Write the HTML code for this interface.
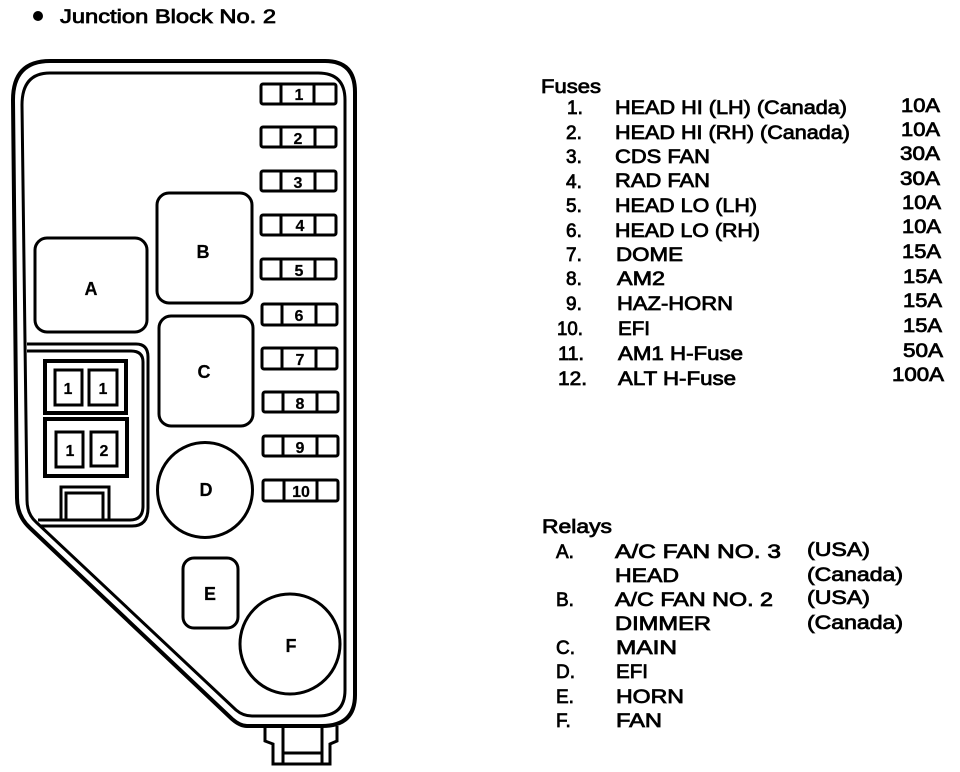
<!DOCTYPE html>
<html><head><meta charset="utf-8"><style>
html,body{margin:0;padding:0;background:#fff}
svg{display:block}
text{font-family:"Liberation Sans",sans-serif;font-size:19px;fill:#000;stroke:#000;stroke-width:.75px}
.n{font-weight:bold;font-size:18px;text-anchor:middle;stroke-width:.2px}
.s{font-size:16px;font-weight:bold;text-anchor:middle;stroke-width:.2px}
</style></head><body>
<svg width="960" height="772" viewBox="0 0 960 772" xmlns="http://www.w3.org/2000/svg">
<circle cx="38" cy="16" r="5"/>
<text x="60" y="23" textLength="216" lengthAdjust="spacingAndGlyphs">Junction Block No. 2</text>
<g fill="none" stroke="#000">
<path stroke-width="4" d="M50 61H325Q355 61 355 92V695Q355 726 322 726H247Q240 726 232 719L30 528Q17 516 17 498L13 100Q13 61 50 61Z"/>
<path stroke-width="3" d="M50 73H318Q345 73 345 100V690Q345 716 318 716H252Q243 716 236 710L36 522Q27 514 27 500L22 105Q22 73 50 73Z"/>
<g stroke-width="3">
<rect x="35" y="238" width="112" height="94" rx="12"/>
<rect x="157" y="193" width="95" height="110" rx="12"/>
<rect x="159" y="316" width="94" height="110" rx="12"/>
<circle cx="205" cy="490" r="47.5"/>
<rect x="183" y="558" width="55" height="70" rx="11"/>
<circle cx="290" cy="644" r="50"/>
<path d="M27 344H136Q148 344 148 357V508Q148 526 132 526H40"/>
<path d="M27 351H131Q143 351 143 362V506Q143 520 130 520H38"/>
<rect x="45" y="361" width="81" height="52" stroke-width="4"/>
<rect x="45" y="419" width="82" height="57" stroke-width="4"/>
<rect x="55" y="370" width="27" height="35"/>
<rect x="89" y="370" width="28" height="35"/>
<rect x="56" y="432" width="27" height="35"/>
<rect x="91" y="432" width="26" height="34"/>
<path d="M61 520V487H109V520"/>
<path d="M66 520V493H103V520"/>
<path d="M265 726V741L273 744V764H330V744L337 741V726M283 726V763M322 726V763M283 753H322"/>
</g>
<g stroke-width="3">
<rect x="261" y="84" width="75" height="20" rx="2"/><path d="M281 84V104M314 84V104"/>
<rect x="261" y="127" width="75" height="20" rx="2"/><path d="M281 127V147M315 127V147"/>
<rect x="261" y="171" width="75" height="20" rx="2"/><path d="M281 171V191M315 171V191"/>
<rect x="261" y="215" width="75" height="20" rx="2"/><path d="M281 215V235M315 215V235"/>
<rect x="261" y="259" width="75" height="20" rx="2"/><path d="M281 259V279M315 259V279"/>
<rect x="262" y="304" width="75" height="21" rx="2"/><path d="M282 304V325M316 304V325"/>
<rect x="262" y="348" width="75" height="21" rx="2"/><path d="M282 348V369M316 348V369"/>
<rect x="263" y="392" width="75" height="20" rx="2"/><path d="M283 392V412M317 392V412"/>
<rect x="263" y="436" width="75" height="20" rx="2"/><path d="M283 436V456M317 436V456"/>
<rect x="263" y="480" width="75" height="21" rx="2"/><path d="M284 480V501M317 480V501"/>
</g>
</g>
<text class="n" x="91" y="295">A</text>
<text class="n" x="203" y="258">B</text>
<text class="n" x="204" y="378">C</text>
<text class="n" x="206" y="496">D</text>
<text class="n" x="210" y="600">E</text>
<text class="n" x="291" y="652">F</text>
<text class="s" x="68" y="394">1</text><text class="s" x="103" y="394">1</text>
<text class="s" x="70" y="456">1</text><text class="s" x="104" y="456">2</text>
<text class="s" x="299" y="100">1</text><text class="s" x="298" y="144">2</text><text class="s" x="298" y="188">3</text><text class="s" x="300" y="231">4</text><text class="s" x="299" y="276">5</text><text class="s" x="299" y="321">6</text><text class="s" x="300" y="365">7</text><text class="s" x="300" y="409">8</text><text class="s" x="300" y="453">9</text><text class="s" x="301" y="497">10</text>

<text x="541" y="93" textLength="60" lengthAdjust="spacingAndGlyphs">Fuses</text>
<text x="567" y="114">1.</text><text x="615" y="114" textLength="232" lengthAdjust="spacingAndGlyphs">HEAD HI (LH) (Canada)</text><text x="901" y="112" textLength="39" lengthAdjust="spacingAndGlyphs">10A</text>
<text x="566" y="139">2.</text><text x="615" y="139" textLength="235" lengthAdjust="spacingAndGlyphs">HEAD HI (RH) (Canada)</text><text x="901" y="136" textLength="39" lengthAdjust="spacingAndGlyphs">10A</text>
<text x="566" y="163">3.</text><text x="615" y="163" textLength="95" lengthAdjust="spacingAndGlyphs">CDS FAN</text><text x="900" y="160" textLength="40" lengthAdjust="spacingAndGlyphs">30A</text>
<text x="566" y="188">4.</text><text x="615" y="187" textLength="95" lengthAdjust="spacingAndGlyphs">RAD FAN</text><text x="900" y="185" textLength="40" lengthAdjust="spacingAndGlyphs">30A</text>
<text x="566" y="212">5.</text><text x="615" y="212" textLength="142" lengthAdjust="spacingAndGlyphs">HEAD LO (LH)</text><text x="902" y="209" textLength="39" lengthAdjust="spacingAndGlyphs">10A</text>
<text x="566" y="237">6.</text><text x="615" y="237" textLength="145" lengthAdjust="spacingAndGlyphs">HEAD LO (RH)</text><text x="902" y="233" textLength="39" lengthAdjust="spacingAndGlyphs">10A</text>
<text x="566" y="261">7.</text><text x="616" y="261" textLength="67" lengthAdjust="spacingAndGlyphs">DOME</text><text x="902" y="258" textLength="39" lengthAdjust="spacingAndGlyphs">15A</text>
<text x="566" y="285">8.</text><text x="617" y="285" textLength="48" lengthAdjust="spacingAndGlyphs">AM2</text><text x="903" y="283" textLength="39" lengthAdjust="spacingAndGlyphs">15A</text>
<text x="566" y="310">9.</text><text x="617" y="310" textLength="116" lengthAdjust="spacingAndGlyphs">HAZ-HORN</text><text x="903" y="307" textLength="39" lengthAdjust="spacingAndGlyphs">15A</text>
<text x="557" y="335" textLength="26" lengthAdjust="spacingAndGlyphs">10.</text><text x="618" y="335" textLength="32" lengthAdjust="spacingAndGlyphs">EFI</text><text x="903" y="332" textLength="39" lengthAdjust="spacingAndGlyphs">15A</text>
<text x="558" y="360" textLength="26" lengthAdjust="spacingAndGlyphs">11.</text><text x="618" y="360" textLength="125" lengthAdjust="spacingAndGlyphs">AM1 H-Fuse</text><text x="903" y="357" textLength="40" lengthAdjust="spacingAndGlyphs">50A</text>
<text x="558" y="385" textLength="29" lengthAdjust="spacingAndGlyphs">12.</text><text x="618" y="385" textLength="118" lengthAdjust="spacingAndGlyphs">ALT H-Fuse</text><text x="892" y="381" textLength="52" lengthAdjust="spacingAndGlyphs">100A</text>

<text x="542" y="533" textLength="70" lengthAdjust="spacingAndGlyphs">Relays</text>
<text x="556" y="558">A.</text><text x="615" y="558" textLength="166" lengthAdjust="spacingAndGlyphs">A/C FAN  NO. 3</text><text x="807" y="556" textLength="63" lengthAdjust="spacingAndGlyphs">(USA)</text>
<text x="615" y="582" textLength="64" lengthAdjust="spacingAndGlyphs">HEAD</text><text x="807" y="581" textLength="96" lengthAdjust="spacingAndGlyphs">(Canada)</text>
<text x="556" y="606">B.</text><text x="615" y="606" textLength="158" lengthAdjust="spacingAndGlyphs">A/C FAN NO. 2</text><text x="807" y="604" textLength="63" lengthAdjust="spacingAndGlyphs">(USA)</text>
<text x="615" y="630" textLength="96" lengthAdjust="spacingAndGlyphs">DIMMER</text><text x="807" y="629" textLength="96" lengthAdjust="spacingAndGlyphs">(Canada)</text>
<text x="556" y="654">C.</text><text x="616" y="654" textLength="61" lengthAdjust="spacingAndGlyphs">MAIN</text>
<text x="556" y="678">D.</text><text x="616" y="678" textLength="32" lengthAdjust="spacingAndGlyphs">EFI</text>
<text x="556" y="703">E.</text><text x="616" y="703" textLength="68" lengthAdjust="spacingAndGlyphs">HORN</text>
<text x="556" y="727">F.</text><text x="616" y="727" textLength="46" lengthAdjust="spacingAndGlyphs">FAN</text>
</svg>
</body></html>
